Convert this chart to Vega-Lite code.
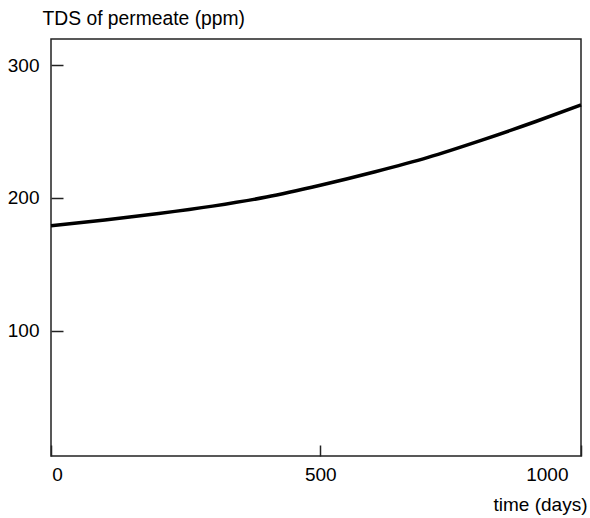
{
  "$schema": "https://vega.github.io/schema/vega-lite/v6.json",
  "autosize": {"type": "none"},
  "padding": {"left": 51, "top": 39, "right": 9, "bottom": 62},
  "width": 530,
  "height": 417,
  "background": "white",
  "config": {
    "view": {"stroke": "#222", "strokeWidth": 1.5},
    "font": "Liberation Sans"
  },
  "data": {
    "values": [
      {"days": 0, "tds": 179},
      {"days": 100, "tds": 183.3},
      {"days": 200, "tds": 188.2},
      {"days": 300, "tds": 193.8},
      {"days": 400, "tds": 200.6},
      {"days": 500, "tds": 209.5},
      {"days": 600, "tds": 219.5},
      {"days": 700, "tds": 230.5},
      {"days": 800, "tds": 243.5},
      {"days": 900, "tds": 257.5},
      {"days": 984, "tds": 270}
    ]
  },
  "mark": {"type": "line", "color": "#000", "strokeWidth": 3.5, "interpolate": "monotone"},
  "encoding": {
    "x": {
      "field": "days",
      "type": "quantitative",
      "scale": {"domain": [0, 984], "nice": false, "zero": false},
      "axis": {
        "values": [0, 500, 984],
        "labelExpr": "datum.value > 900 ? '1000' : datum.label",
        "domain": false,
        "grid": false,
        "tickSize": -11,
        "tickColor": "#222",
        "tickWidth": 1.5,
        "labelPadding": 20,
        "labelFontSize": 19,
        "labelColor": "#000",
        "labelAlign": {"condition": {"test": "datum.value > 900", "value": "right"}, "value": "center"},
        "labelOffset": {"condition": [{"test": "datum.value > 900", "value": -13}, {"test": "datum.value < 1", "value": 6}], "value": 0},
        "labelFlush": false,
        "title": "time (days)",
        "titleFontSize": 19,
        "titleFontWeight": "normal",
        "titleColor": "#000",
        "titleAnchor": "end",
        "titleAlign": "right",
        "titleBaseline": "alphabetic",
        "titleX": 536,
        "titleY": 54
      }
    },
    "y": {
      "field": "tds",
      "type": "quantitative",
      "scale": {"domain": [5.7, 319.6], "nice": false, "zero": false},
      "axis": {
        "values": [100, 200, 300],
        "domain": false,
        "grid": false,
        "tickSize": -12,
        "tickColor": "#222",
        "tickWidth": 1.5,
        "labelPadding": 24,
        "labelFontSize": 19,
        "labelColor": "#000",
        "title": "TDS of permeate (ppm)",
        "titleFontSize": 19.3,
        "titleFontWeight": "normal",
        "titleColor": "#000",
        "titleAngle": 0,
        "titleAlign": "left",
        "titleAnchor": "start",
        "titleBaseline": "alphabetic",
        "titleX": -9,
        "titleY": -15
      }
    }
  }
}
